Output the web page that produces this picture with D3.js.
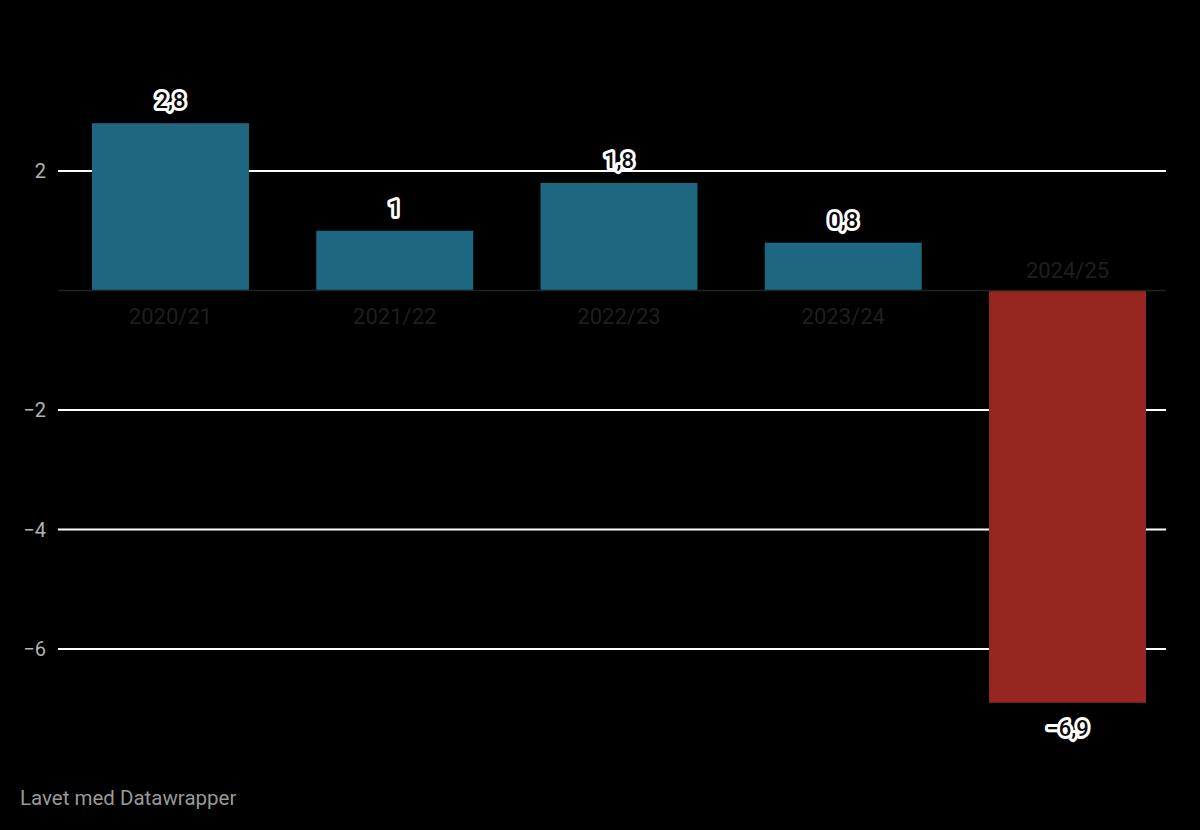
<!DOCTYPE html>
<html>
<head>
<meta charset="utf-8">
<script src="https://cdn.jsdelivr.net/npm/d3@7"></script>
<style>
  html, body { margin: 0; padding: 0; background: #000; }
  svg { display: block; font-family: Roboto, "Noto Sans", sans-serif; }
</style>
</head>
<body>
<svg id="chart" width="1200" height="830"></svg>
<script>
// data (percent change per season)
const seasons = ["2020/21", "2021/22", "2022/23", "2023/24", "2024/25"];
const values = [2.8, 1, 1.8, 0.8, -6.9];
const valueLabels = ["2,8", "1", "1,8", "0,8", "\u22126,9"];
const yTicks = [-6, -4, -2, 2];
const yTickLabels = ["\u22126", "\u22124", "\u22122", "2"];

const width = 1200, height = 830;
const gridLeft = 58, gridRight = 1166;

const svg = d3.select("#chart");

svg.append("rect")
    .attr("width", width)
    .attr("height", height)
    .attr("fill", "#000");

const x = d3.scaleBand()
    .domain(seasons)
    .range([92, 1146])
    .paddingInner(0.3)
    .paddingOuter(0);

const y = d3.scaleLinear()
    .domain([0, 2])
    .range([290.5, 171]);

// gridlines
svg.append("g")
    .selectAll("line")
    .data(yTicks)
    .enter()
    .append("line")
    .attr("x1", gridLeft)
    .attr("x2", gridRight)
    .attr("y1", d => y(d))
    .attr("y2", d => y(d))
    .attr("stroke", "#fff")
    .attr("stroke-width", 2);

svg.append("g")
    .selectAll("text")
    .data(yTicks)
    .enter()
    .append("text")
    .attr("x", 46)
    .attr("y", d => y(d))
    .attr("dy", "0.35em")
    .attr("text-anchor", "end")
    .attr("fill", "#b3b3b3")
    .attr("font-size", 20)
    .text((d, i) => yTickLabels[i]);

// bars
svg.append("g")
    .selectAll("rect")
    .data(values)
    .enter()
    .append("rect")
    .attr("x", (d, i) => x(seasons[i]))
    .attr("width", x.bandwidth())
    .attr("y", d => y(Math.max(0, d)))
    .attr("height", d => Math.abs(y(d) - y(0)))
    .attr("fill", d => d < 0 ? "#96261f" : "#1d6781");

// baseline
svg.append("line")
    .attr("x1", gridLeft)
    .attr("x2", gridRight)
    .attr("y1", y(0))
    .attr("y2", y(0))
    .attr("stroke", "#222")
    .attr("stroke-width", 1.5);

// category labels
svg.append("g")
    .selectAll("text")
    .data(values)
    .enter()
    .append("text")
    .attr("x", (d, i) => x(seasons[i]) + x.bandwidth() / 2)
    .attr("y", d => d < 0 ? y(0) - 13 : y(0) + 33)
    .attr("text-anchor", "middle")
    .attr("fill", "#1f1f1f")
    .attr("font-size", 22)
    .text((d, i) => seasons[i]);

// value labels with halo
svg.append("g")
    .selectAll("text")
    .data(values)
    .enter()
    .append("text")
    .attr("x", (d, i) => x(seasons[i]) + x.bandwidth() / 2)
    .attr("y", d => d < 0 ? y(d) + 33 : y(d) - 15)
    .attr("text-anchor", "middle")
    .attr("fill", "#0a0a0a")
    .attr("stroke", "#fff")
    .attr("stroke-width", 6)
    .attr("stroke-linejoin", "round")
    .attr("paint-order", "stroke")
    .attr("font-size", 22)
    .attr("font-weight", 500)
    .text((d, i) => valueLabels[i]);

// footer
svg.append("text")
    .attr("x", 20)
    .attr("y", 805)
    .attr("fill", "#999")
    .attr("font-size", 20.5)
    .text("Lavet med Datawrapper");
</script>
</body>
</html>
